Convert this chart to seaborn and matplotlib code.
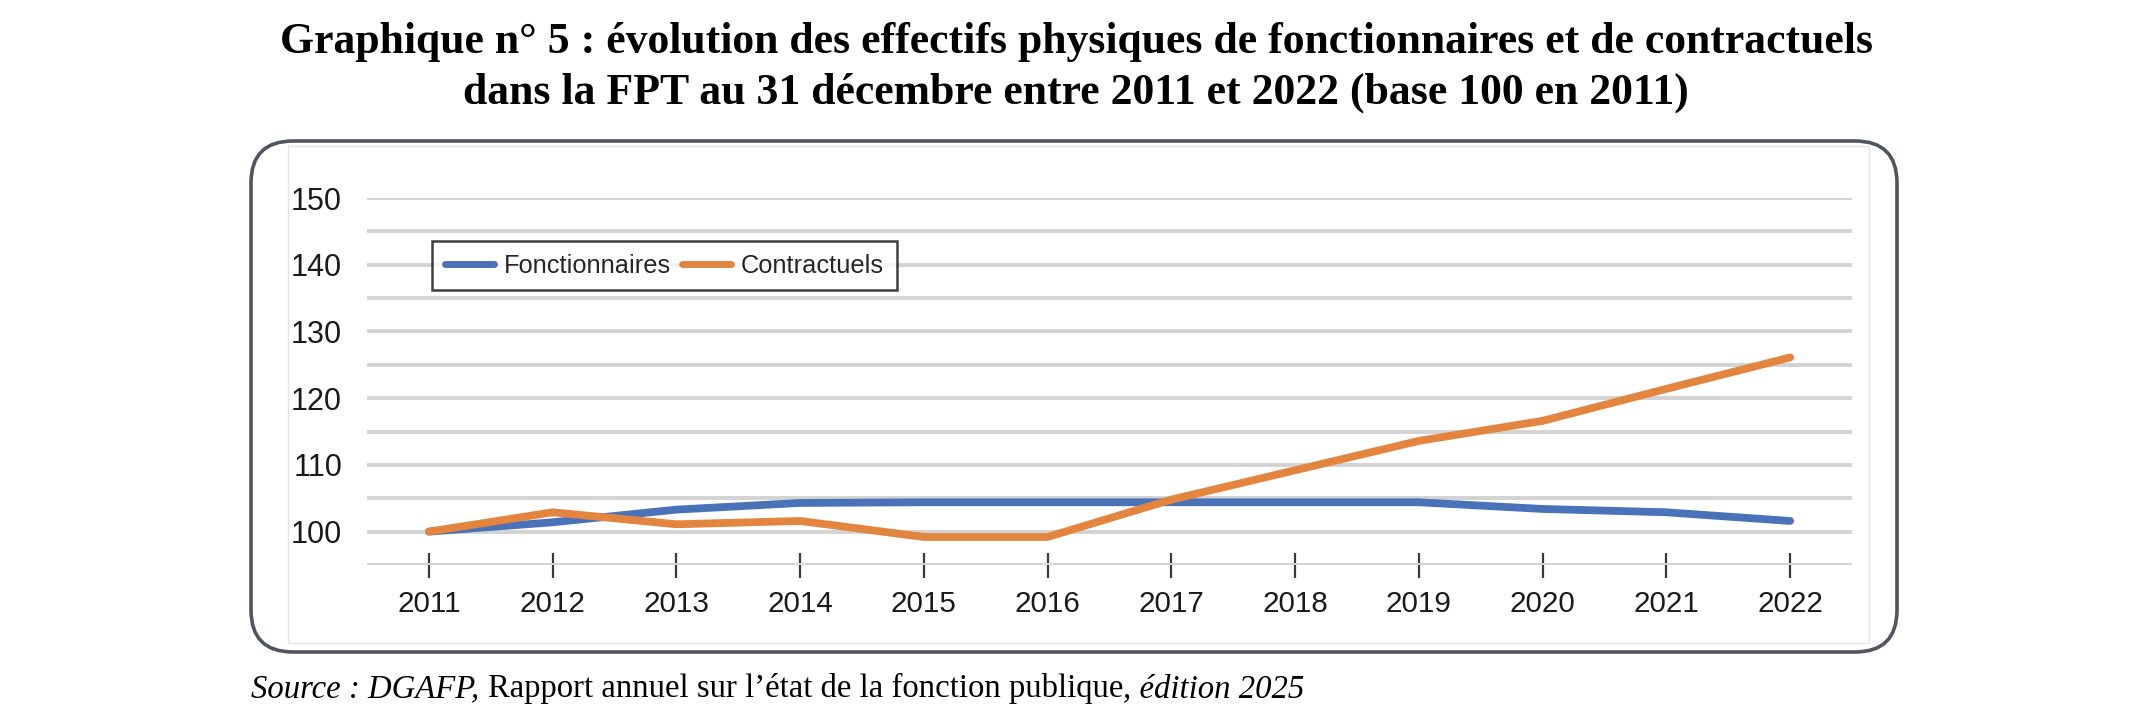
import numpy as np
import pandas as pd
import matplotlib
matplotlib.use("Agg")
import matplotlib.pyplot as plt
from matplotlib.patches import FancyBboxPatch, Rectangle
import seaborn as sns

# ---------------- data ----------------
years = [2011, 2012, 2013, 2014, 2015, 2016, 2017, 2018, 2019, 2020, 2021, 2022]
fonctionnaires = [100, 101.4, 103.3, 104.3, 104.4, 104.4, 104.4, 104.4, 104.4, 103.4, 102.9, 101.6]
contractuels = [100, 102.9, 101.1, 101.6, 99.2, 99.2, 104.8, 109.2, 113.6, 116.6, 121.4, 126.1]
series_names = ["Fonctionnaires", "Contractuels"]
y_ticks = [95, 100, 105, 110, 115, 120, 125, 130, 135, 140, 145, 150]
y_tick_labels = ["", "100", "", "110", "", "120", "", "130", "", "140", "", "150"]
title_lines = [
    "Graphique n° 5 : évolution des effectifs physiques de fonctionnaires et de contractuels",
    "dans la FPT au 31 décembre entre 2011 et 2022 (base 100 en 2011)",
]
source_parts = [
    ("Source : DGAFP, ", "italic"),
    ("Rapport annuel sur l\u2019état de la fonction publique", "normal"),
    (", édition 2025", "italic"),
]
colors = {"Fonctionnaires": "#4a72b9", "Contractuels": "#e3843f"}

df = pd.DataFrame({
    "year": years * 2,
    "value": fonctionnaires + contractuels,
    "serie": [series_names[0]] * len(years) + [series_names[1]] * len(years),
})

# ---------------- figure ----------------
sns.set_theme(style="white")
plt.rcParams["font.family"] = ["Liberation Sans", "DejaVu Sans"]

W, H, DPI = 2148, 723, 100
fig = plt.figure(figsize=(W / DPI, H / DPI), dpi=DPI)

# background axes in pixel coordinates for the frame and texts
bg = fig.add_axes([0, 0, 1, 1], zorder=-1)
bg.set_xlim(0, W)
bg.set_ylim(H, 0)
bg.axis("off")

frame = FancyBboxPatch((251, 141), 1897 - 251, 652 - 141,
                       boxstyle="round,pad=0,rounding_size=42",
                       facecolor="white", edgecolor="#50555f", linewidth=2.6)
bg.add_patch(frame)
bg.add_patch(Rectangle((288, 146), 1869 - 288, 643 - 146, facecolor="none",
                       edgecolor="#e4e4e4", linewidth=1.0))

# main chart axes
ax = fig.add_axes([367 / W, 1 - 565 / H, (1852 - 367) / W, (565 - 198) / H])
ax.set_facecolor("none")
sns.lineplot(data=df, x="year", y="value", hue="serie", palette=colors,
             linewidth=5.6, ax=ax, legend=False, solid_capstyle="round")

ax.set_xlim(years[0] - 0.5, years[-1] + 0.5)
ax.set_ylim(95, 150)
ax.set_yticks(y_ticks)
ax.set_yticklabels(y_tick_labels)
ax.set_xticks(years)
ax.set_xticklabels([str(y) for y in years])
ax.set_xlabel("")
ax.set_ylabel("")
for s in ax.spines.values():
    s.set_visible(False)
ax.grid(axis="y", color="#d3d3d3", linewidth=2.8)
ax.grid(axis="x", visible=False)
ax.set_axisbelow(True)
ax.tick_params(axis="y", length=0, pad=18, labelsize=22, labelcolor="#1a1a1a")
ax.tick_params(axis="x", direction="inout", length=18, width=1.6, color="#3a3a3a",
               pad=9, labelsize=21.3, labelcolor="#1a1a1a", bottom=True)

lines = ax.get_lines()
leg = ax.legend(lines[:2], series_names, loc="upper left",
                bbox_to_anchor=(432 / W, 1 - 241 / H), bbox_transform=fig.transFigure,
                ncol=2, frameon=True, fancybox=False, fontsize=18.3,
                handlelength=1.95, handletextpad=0.38, columnspacing=0.42,
                borderpad=0.5, borderaxespad=0)
leg.get_frame().set_edgecolor("#111111")
leg.get_frame().set_linewidth(1.8)
for h in leg.get_lines():
    h.set_linewidth(5.0)

# title
serif = ["Liberation Serif", "DejaVu Serif"]
bg.text(W / 2 + 2, 53, title_lines[0], ha="center", va="baseline", fontsize=31.5,
        fontweight="bold", family=serif, color="black")
bg.text(W / 2 + 2, 104, title_lines[1], ha="center", va="baseline", fontsize=31.5,
        fontweight="bold", family=serif, color="black")

# source line (mixed styles)
fig.canvas.draw()
renderer = fig.canvas.get_renderer()
x_px = 251
for txt, style in source_parts:
    t = bg.text(x_px, 697, txt, ha="left", va="baseline", fontsize=23.6,
                style=style, family=serif, color="black")
    bb = t.get_window_extent(renderer=renderer)
    x_px += bb.width

fig.savefig("out.png", dpi=DPI, facecolor="white")
